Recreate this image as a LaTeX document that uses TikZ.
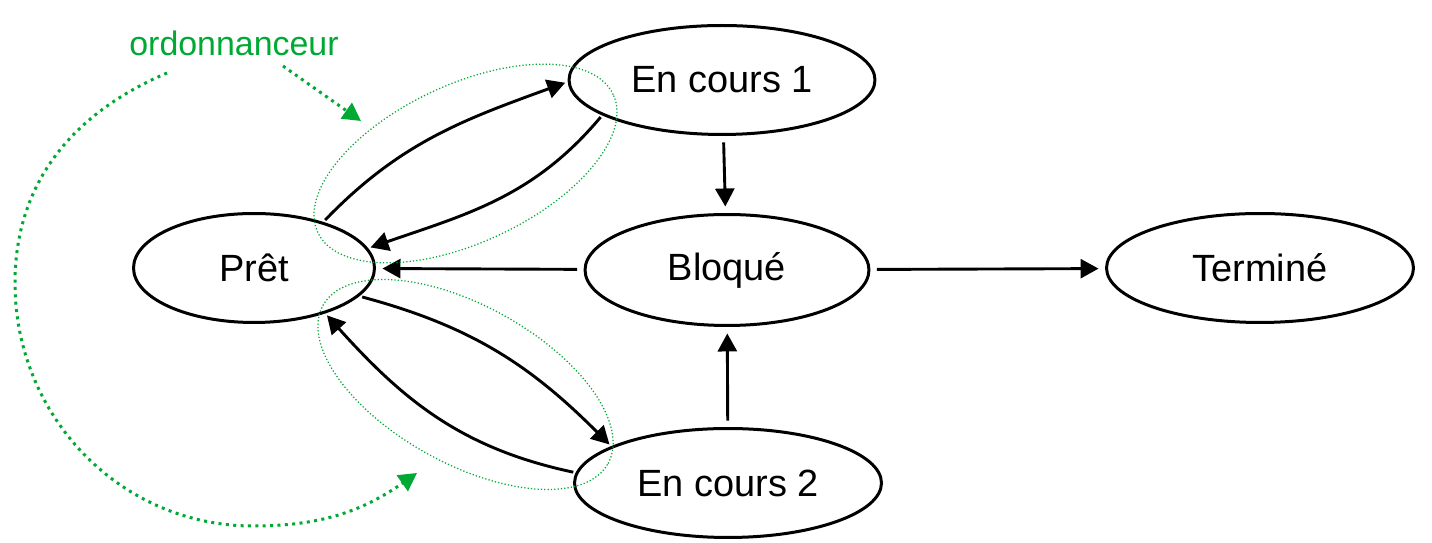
\documentclass[tikz,border=0pt]{standalone}
\usepackage{fontspec}
\setmainfont{Liberation Sans}
\usetikzlibrary{arrows.meta,positioning,shapes.geometric}
\definecolor{ordovert}{RGB}{0,169,51}
\tikzset{
  etat/.style={ellipse, draw=black, line width=0.06cm, inner sep=0pt, outer sep=0.08cm,
               minimum height=2.18cm, font=\fontsize{21.6}{26}\selectfont},
  trans/.style={-{Triangle[length=0.36cm,width=0.38cm]}, line width=0.058cm},
  droit/.style={trans, shorten <=0.08cm, shorten >=0.08cm},
  groupe/.style={draw=ordovert, line width=0.025cm, dash pattern=on 0.7pt off 1.2pt},
  choix/.style={draw=ordovert, line width=0.06cm, dash pattern=on 1.7pt off 2.5pt,
                -{Triangle[length=0.36cm,width=0.38cm,fill=ordovert]}}
}

\begin{document}
\begin{tikzpicture}[x=0.02cm, y=0.02cm]
\useasboundingbox (0,0) rectangle (1432,543);
\node[etat, minimum width=4.82cm] (pret) at (254,275) {Prêt};
\node[etat, minimum width=6.12cm] (cours1) at (722,463) {En cours 1};
\node[etat, minimum width=5.68cm, minimum height=2.22cm] (bloque) at (727,273) {Bloqué};
\node[etat, minimum width=6.14cm] (termine) at (1260,275) {Terminé};
\node[etat, minimum width=6.14cm] (cours2) at (728,60) {En cours 2};
\node[text=ordovert, font=\fontsize{19.3}{23}\selectfont] (ordo) at (234,500) {ordonnanceur};

% transitions
\draw[trans] (pret.34) to[out=46, in=200] (cours1.181);
\draw[trans] (cours1.197) to[out=230, in=19] (pret.10);
\draw[trans] (pret.-15) to[out=-15, in=135] (cours2.162);
\draw[trans] (cours2.176) to[out=168, in=-48] (pret.-33);
\draw[droit] (cours1) -- (bloque);
\draw[droit] (cours2) -- (bloque);
\draw[droit] (bloque) -- (pret);
\draw[droit] (bloque) -- (termine);

% ordonnanceur
\draw[groupe] (465.5,379.5) ellipse[x radius=163, y radius=79, rotate=25];
\draw[groupe] (465.5,158.5) ellipse[x radius=163, y radius=79, rotate=-29];
\coordinate (ordoA) at (283,477);
\coordinate (ordoB) at (361,422);
\coordinate (ordoC) at (167,470);
\coordinate (ordoG) at (15,260);
\coordinate (ordoH) at (253,17);
\coordinate (ordoD) at (417,70);
\draw[choix] (ordoA) -- (ordoB);
\draw[choix] (ordoC) to[out=203, in=90] (ordoG) to[out=-90, in=180] (ordoH)
  to[out=0, in=215] (ordoD);
\end{tikzpicture}
\end{document}
